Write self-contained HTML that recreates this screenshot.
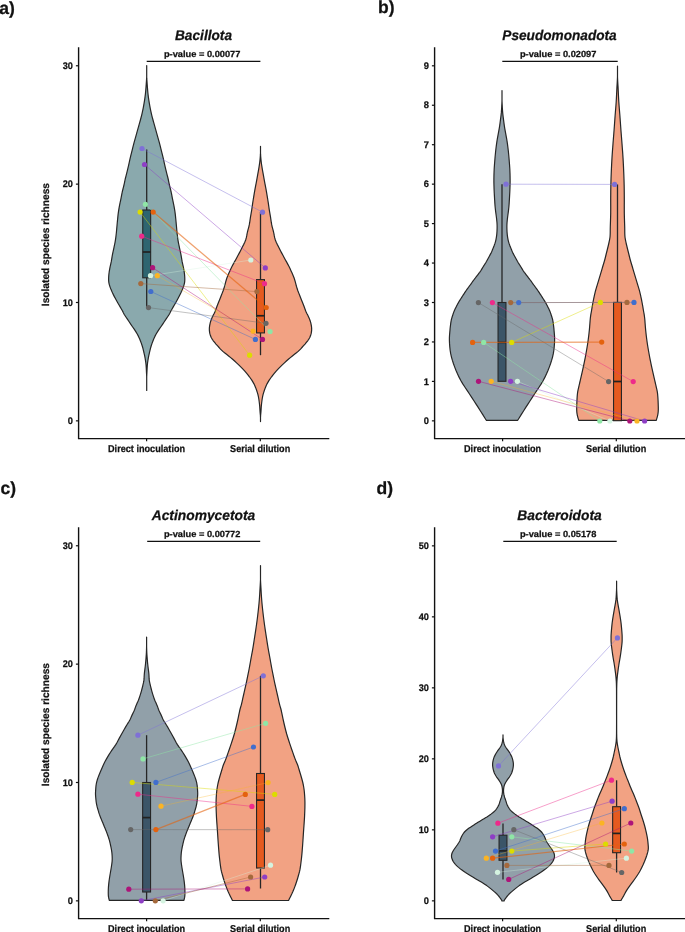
<!DOCTYPE html>
<html><head><meta charset="utf-8"><style>
html,body{margin:0;padding:0;background:#fff;}
svg{display:block;will-change:transform;}
text{font-family:"Liberation Sans", sans-serif;text-rendering:geometricPrecision;fill:#111;stroke:#111;stroke-width:0.25px;}
</style></head><body>
<svg width="685" height="932" viewBox="0 0 685 932">
<rect width="685" height="932" fill="#fff"/>
<path d="M146.70,65.50 L146.70,67.29 L146.70,69.88 L146.70,72.65 L146.70,75.00 L146.70,76.72 L146.74,78.16 L146.84,79.52 L146.95,81.00 L147.06,82.66 L147.18,84.39 L147.31,86.15 L147.45,87.90 L147.59,89.65 L147.74,91.40 L147.91,93.15 L148.10,94.90 L148.32,96.63 L148.56,98.35 L148.82,100.07 L149.10,101.80 L149.39,103.54 L149.69,105.29 L150.01,107.05 L150.35,108.80 L150.71,110.55 L151.09,112.31 L151.48,114.06 L151.90,115.80 L152.34,117.53 L152.80,119.25 L153.27,120.97 L153.75,122.70 L154.23,124.44 L154.72,126.19 L155.21,127.95 L155.70,129.70 L156.19,131.45 L156.67,133.20 L157.16,134.95 L157.65,136.70 L158.14,138.45 L158.64,140.21 L159.13,141.96 L159.60,143.70 L160.05,145.43 L160.49,147.15 L160.92,148.87 L161.35,150.60 L161.79,152.34 L162.24,154.09 L162.68,155.85 L163.10,157.60 L163.50,159.35 L163.88,161.10 L164.26,162.85 L164.65,164.60 L165.05,166.35 L165.46,168.11 L165.88,169.86 L166.30,171.60 L166.74,173.33 L167.18,175.05 L167.63,176.77 L168.05,178.50 L168.44,180.25 L168.81,182.03 L169.17,183.78 L169.55,185.50 L169.95,187.15 L170.36,188.76 L170.77,190.36 L171.15,192.00 L171.50,193.69 L171.83,195.42 L172.16,197.16 L172.50,198.90 L172.86,200.64 L173.24,202.39 L173.61,204.15 L173.95,205.90 L174.27,207.65 L174.57,209.41 L174.85,211.16 L175.10,212.90 L175.32,214.63 L175.51,216.35 L175.68,218.07 L175.85,219.80 L176.02,221.54 L176.18,223.29 L176.34,225.05 L176.50,226.80 L176.66,228.55 L176.81,230.30 L176.97,232.05 L177.15,233.80 L177.36,235.55 L177.58,237.31 L177.83,239.06 L178.10,240.80 L178.41,242.53 L178.74,244.25 L179.09,245.97 L179.45,247.70 L179.82,249.44 L180.21,251.19 L180.59,252.95 L180.95,254.70 L181.26,256.45 L181.55,258.20 L181.84,259.95 L182.15,261.70 L182.52,263.45 L182.91,265.20 L183.30,266.95 L183.65,268.70 L183.96,270.45 L184.25,272.21 L184.49,273.96 L184.65,275.70 L184.75,277.43 L184.80,279.15 L184.75,280.87 L184.55,282.60 L184.17,284.34 L183.65,286.09 L183.03,287.85 L182.35,289.60 L181.61,291.35 L180.80,293.11 L179.94,294.86 L179.05,296.60 L178.14,298.33 L177.20,300.05 L176.23,301.77 L175.25,303.50 L174.20,305.31 L173.10,307.17 L172.05,308.94 L171.15,310.50 L170.56,311.62 L170.19,312.44 L169.75,313.34 L168.95,314.70 L167.65,316.72 L166.01,319.16 L164.25,321.77 L162.55,324.30 L160.90,326.72 L159.21,329.15 L157.60,331.58 L156.15,334.00 L154.91,336.40 L153.82,338.80 L152.84,341.20 L151.95,343.60 L151.16,346.02 L150.47,348.44 L149.86,350.87 L149.30,353.30 L148.77,355.73 L148.30,358.16 L147.89,360.58 L147.55,363.00 L147.30,365.44 L147.14,367.88 L147.02,370.29 L146.90,372.60 L146.79,374.76 L146.71,376.81 L146.70,378.85 L146.70,381.00 L146.70,383.52 L146.70,386.27 L146.70,388.77 L146.70,390.50 L146.70,390.50 L146.70,388.77 L146.70,386.27 L146.70,383.52 L146.70,381.00 L146.70,378.85 L146.69,376.81 L146.61,374.76 L146.50,372.60 L146.38,370.29 L146.26,367.88 L146.10,365.44 L145.85,363.00 L145.51,360.58 L145.10,358.16 L144.63,355.73 L144.10,353.30 L143.54,350.87 L142.93,348.44 L142.24,346.02 L141.45,343.60 L140.56,341.20 L139.58,338.80 L138.49,336.40 L137.25,334.00 L135.80,331.58 L134.19,329.15 L132.50,326.72 L130.85,324.30 L129.15,321.77 L127.39,319.16 L125.75,316.72 L124.45,314.70 L123.65,313.34 L123.21,312.44 L122.84,311.62 L122.25,310.50 L121.35,308.94 L120.30,307.17 L119.20,305.31 L118.15,303.50 L117.17,301.77 L116.20,300.05 L115.26,298.33 L114.35,296.60 L113.46,294.86 L112.60,293.11 L111.79,291.35 L111.05,289.60 L110.37,287.85 L109.75,286.09 L109.23,284.34 L108.85,282.60 L108.65,280.87 L108.60,279.15 L108.65,277.43 L108.75,275.70 L108.91,273.96 L109.15,272.21 L109.44,270.45 L109.75,268.70 L110.10,266.95 L110.49,265.20 L110.88,263.45 L111.25,261.70 L111.56,259.95 L111.85,258.20 L112.14,256.45 L112.45,254.70 L112.81,252.95 L113.19,251.19 L113.58,249.44 L113.95,247.70 L114.31,245.97 L114.66,244.25 L114.99,242.53 L115.30,240.80 L115.57,239.06 L115.82,237.31 L116.04,235.55 L116.25,233.80 L116.43,232.05 L116.59,230.30 L116.74,228.55 L116.90,226.80 L117.06,225.05 L117.22,223.29 L117.38,221.54 L117.55,219.80 L117.72,218.07 L117.89,216.35 L118.08,214.63 L118.30,212.90 L118.55,211.16 L118.83,209.41 L119.13,207.65 L119.45,205.90 L119.79,204.15 L120.16,202.39 L120.54,200.64 L120.90,198.90 L121.24,197.16 L121.57,195.42 L121.90,193.69 L122.25,192.00 L122.63,190.36 L123.04,188.76 L123.45,187.15 L123.85,185.50 L124.23,183.78 L124.59,182.03 L124.96,180.25 L125.35,178.50 L125.77,176.77 L126.22,175.05 L126.66,173.33 L127.10,171.60 L127.52,169.86 L127.94,168.11 L128.35,166.35 L128.75,164.60 L129.14,162.85 L129.52,161.10 L129.90,159.35 L130.30,157.60 L130.72,155.85 L131.16,154.09 L131.61,152.34 L132.05,150.60 L132.48,148.87 L132.91,147.15 L133.35,145.43 L133.80,143.70 L134.27,141.96 L134.76,140.21 L135.26,138.45 L135.75,136.70 L136.24,134.95 L136.72,133.20 L137.21,131.45 L137.70,129.70 L138.19,127.95 L138.68,126.19 L139.17,124.44 L139.65,122.70 L140.13,120.97 L140.60,119.25 L141.06,117.53 L141.50,115.80 L141.92,114.06 L142.31,112.31 L142.69,110.55 L143.05,108.80 L143.39,107.05 L143.71,105.29 L144.01,103.54 L144.30,101.80 L144.58,100.07 L144.84,98.35 L145.08,96.63 L145.30,94.90 L145.49,93.15 L145.66,91.40 L145.81,89.65 L145.95,87.90 L146.09,86.15 L146.22,84.39 L146.34,82.66 L146.45,81.00 L146.56,79.52 L146.66,78.16 L146.70,76.72 L146.70,75.00 L146.70,72.65 L146.70,69.88 L146.70,67.29 L146.70,65.50 Z" fill="#8aa9ad" stroke="#262626" stroke-width="1.2" stroke-linejoin="round"/>
<path d="M260.50,146.30 L260.50,147.48 L260.50,149.16 L260.50,151.08 L260.50,153.00 L260.59,154.91 L260.74,156.93 L260.91,158.96 L261.10,160.90 L261.32,162.72 L261.56,164.46 L261.82,166.18 L262.10,167.90 L262.39,169.63 L262.71,171.35 L263.03,173.07 L263.35,174.80 L263.66,176.54 L263.97,178.29 L264.28,180.05 L264.60,181.80 L264.93,183.55 L265.28,185.30 L265.62,187.05 L265.95,188.80 L266.26,190.55 L266.57,192.31 L266.86,194.06 L267.15,195.80 L267.43,197.53 L267.71,199.25 L267.98,200.97 L268.25,202.70 L268.50,204.44 L268.74,206.19 L268.99,207.95 L269.25,209.70 L269.53,211.43 L269.83,213.14 L270.14,214.88 L270.45,216.70 L270.74,218.65 L271.03,220.68 L271.34,222.73 L271.70,224.70 L272.12,226.56 L272.59,228.35 L273.08,230.14 L273.55,232.00 L273.95,233.93 L274.31,235.91 L274.74,237.93 L275.35,240.00 L276.21,242.15 L277.25,244.36 L278.38,246.59 L279.50,248.80 L280.61,250.98 L281.76,253.15 L282.93,255.32 L284.10,257.50 L285.30,259.70 L286.54,261.90 L287.75,264.10 L288.90,266.30 L290.01,268.57 L291.08,270.89 L292.07,273.09 L292.90,275.00 L293.50,276.42 L293.92,277.49 L294.30,278.57 L294.75,280.00 L295.30,281.94 L295.88,284.17 L296.51,286.52 L297.20,288.80 L297.96,290.98 L298.78,293.15 L299.64,295.32 L300.50,297.50 L301.39,299.77 L302.32,302.09 L303.22,304.32 L304.00,306.30 L304.63,307.97 L305.16,309.43 L305.64,310.74 L306.15,312.00 L306.71,313.19 L307.27,314.28 L307.83,315.33 L308.35,316.40 L308.84,317.50 L309.32,318.61 L309.76,319.71 L310.15,320.80 L310.49,321.88 L310.79,322.95 L311.04,324.02 L311.25,325.10 L311.42,326.19 L311.56,327.29 L311.64,328.40 L311.65,329.50 L311.60,330.60 L311.48,331.70 L311.30,332.80 L311.05,333.90 L310.74,335.00 L310.36,336.10 L309.91,337.20 L309.35,338.30 L308.67,339.40 L307.88,340.51 L307.03,341.61 L306.15,342.70 L305.25,343.78 L304.31,344.85 L303.34,345.92 L302.35,347.00 L301.41,348.05 L300.50,349.08 L299.46,350.17 L298.15,351.40 L296.45,352.80 L294.48,354.34 L292.38,355.95 L290.35,357.60 L288.38,359.29 L286.39,361.05 L284.43,362.83 L282.55,364.60 L280.75,366.35 L279.00,368.11 L277.33,369.86 L275.75,371.60 L274.27,373.33 L272.88,375.05 L271.58,376.77 L270.35,378.50 L269.21,380.19 L268.16,381.86 L267.18,383.59 L266.25,385.50 L265.35,387.65 L264.49,389.97 L263.71,392.36 L263.05,394.70 L262.54,396.98 L262.14,399.26 L261.83,401.53 L261.55,403.80 L261.32,406.08 L261.16,408.38 L261.02,410.65 L260.85,412.90 L260.62,415.31 L260.50,417.82 L260.50,420.05 L260.50,421.60 L260.50,421.60 L260.50,420.05 L260.50,417.82 L260.38,415.31 L260.15,412.90 L259.98,410.65 L259.84,408.38 L259.68,406.08 L259.45,403.80 L259.17,401.53 L258.86,399.26 L258.46,396.98 L257.95,394.70 L257.29,392.36 L256.51,389.97 L255.65,387.65 L254.75,385.50 L253.82,383.59 L252.84,381.86 L251.79,380.19 L250.65,378.50 L249.42,376.77 L248.12,375.05 L246.73,373.33 L245.25,371.60 L243.67,369.86 L242.00,368.11 L240.25,366.35 L238.45,364.60 L236.57,362.83 L234.61,361.05 L232.62,359.29 L230.65,357.60 L228.62,355.95 L226.52,354.34 L224.55,352.80 L222.85,351.40 L221.54,350.17 L220.50,349.08 L219.59,348.05 L218.65,347.00 L217.66,345.92 L216.69,344.85 L215.75,343.78 L214.85,342.70 L213.97,341.61 L213.12,340.51 L212.33,339.40 L211.65,338.30 L211.09,337.20 L210.64,336.10 L210.26,335.00 L209.95,333.90 L209.70,332.80 L209.52,331.70 L209.40,330.60 L209.35,329.50 L209.36,328.40 L209.44,327.29 L209.58,326.19 L209.75,325.10 L209.96,324.02 L210.21,322.95 L210.51,321.88 L210.85,320.80 L211.24,319.71 L211.68,318.61 L212.16,317.50 L212.65,316.40 L213.17,315.33 L213.73,314.28 L214.29,313.19 L214.85,312.00 L215.36,310.74 L215.84,309.43 L216.37,307.97 L217.00,306.30 L217.78,304.32 L218.68,302.09 L219.61,299.77 L220.50,297.50 L221.36,295.32 L222.22,293.15 L223.04,290.98 L223.80,288.80 L224.49,286.52 L225.12,284.17 L225.70,281.94 L226.25,280.00 L226.70,278.57 L227.08,277.49 L227.50,276.42 L228.10,275.00 L228.93,273.09 L229.92,270.89 L230.99,268.57 L232.10,266.30 L233.25,264.10 L234.46,261.90 L235.70,259.70 L236.90,257.50 L238.07,255.32 L239.24,253.15 L240.39,250.98 L241.50,248.80 L242.62,246.59 L243.75,244.36 L244.79,242.15 L245.65,240.00 L246.26,237.93 L246.69,235.91 L247.05,233.93 L247.45,232.00 L247.92,230.14 L248.41,228.35 L248.88,226.56 L249.30,224.70 L249.66,222.73 L249.97,220.68 L250.26,218.65 L250.55,216.70 L250.86,214.88 L251.17,213.14 L251.47,211.43 L251.75,209.70 L252.01,207.95 L252.26,206.19 L252.50,204.44 L252.75,202.70 L253.02,200.97 L253.29,199.25 L253.57,197.53 L253.85,195.80 L254.14,194.06 L254.43,192.31 L254.74,190.55 L255.05,188.80 L255.38,187.05 L255.72,185.30 L256.07,183.55 L256.40,181.80 L256.72,180.05 L257.03,178.29 L257.34,176.54 L257.65,174.80 L257.97,173.07 L258.29,171.35 L258.61,169.63 L258.90,167.90 L259.18,166.18 L259.44,164.46 L259.68,162.72 L259.90,160.90 L260.09,158.96 L260.26,156.93 L260.41,154.91 L260.50,153.00 L260.50,151.08 L260.50,149.16 L260.50,147.48 L260.50,146.30 Z" fill="#f2a283" stroke="#262626" stroke-width="1.2" stroke-linejoin="round"/>
<line x1="146.7" y1="149.4" x2="146.7" y2="210" stroke="#262626" stroke-width="1.3"/>
<line x1="146.7" y1="277.8" x2="146.7" y2="307.6" stroke="#262626" stroke-width="1.3"/>
<rect x="142.75" y="210" width="7.9" height="67.80" fill="#2e6570" stroke="#262626" stroke-width="1.1"/>
<line x1="142.75" y1="252" x2="150.65" y2="252" stroke="#222" stroke-width="1.7"/>
<line x1="260.5" y1="211.8" x2="260.5" y2="279.6" stroke="#262626" stroke-width="1.3"/>
<line x1="260.5" y1="332.9" x2="260.5" y2="355.2" stroke="#262626" stroke-width="1.3"/>
<rect x="256.55" y="279.6" width="7.9" height="53.30" fill="#e55a1f" stroke="#262626" stroke-width="1.1"/>
<line x1="256.55" y1="315.75" x2="264.45" y2="315.75" stroke="#222" stroke-width="1.7"/>
<line x1="150.5" y1="275.7" x2="250.8" y2="260" stroke="#d4f3e0" stroke-width="1.0" stroke-opacity="0.35"/>
<line x1="145.4" y1="204.3" x2="270.1" y2="331.5" stroke="#8fe6a6" stroke-width="1.0" stroke-opacity="0.45"/>
<line x1="140.1" y1="212.1" x2="249.6" y2="355.2" stroke="#dcdc00" stroke-width="1.0" stroke-opacity="0.45"/>
<line x1="157.3" y1="275.7" x2="253.1" y2="331.2" stroke="#fbb424" stroke-width="1.0" stroke-opacity="0.33"/>
<line x1="142" y1="148.5" x2="262.5" y2="212.2" stroke="#7f70d6" stroke-width="1.0" stroke-opacity="0.45"/>
<line x1="144.5" y1="164.5" x2="265.3" y2="267.9" stroke="#8e3fc5" stroke-width="1.0" stroke-opacity="0.45"/>
<line x1="150.8" y1="291.5" x2="255.4" y2="339.4" stroke="#416ecd" stroke-width="1.0" stroke-opacity="0.45"/>
<line x1="140.8" y1="283.6" x2="256.9" y2="291.6" stroke="#a5693c" stroke-width="1.0" stroke-opacity="0.45"/>
<line x1="148.5" y1="307.6" x2="266" y2="323.3" stroke="#666666" stroke-width="1.0" stroke-opacity="0.4"/>
<line x1="141.7" y1="236.2" x2="264.5" y2="283.7" stroke="#ee2a8a" stroke-width="1.0" stroke-opacity="0.45"/>
<line x1="152.6" y1="267.7" x2="262.5" y2="339.4" stroke="#ad1479" stroke-width="1.0" stroke-opacity="0.45"/>
<line x1="153.2" y1="212.1" x2="266.2" y2="307.5" stroke="#e4620e" stroke-width="1.25" stroke-opacity="0.6"/>
<circle cx="142" cy="148.5" r="2.6" fill="#7f70d6"/>
<circle cx="144.5" cy="164.5" r="2.6" fill="#8e3fc5"/>
<circle cx="145.4" cy="204.3" r="2.6" fill="#8fe6a6"/>
<circle cx="140.1" cy="212.1" r="2.6" fill="#dcdc00"/>
<circle cx="153.2" cy="212.1" r="2.6" fill="#e4620e"/>
<circle cx="141.7" cy="236.2" r="2.6" fill="#ee2a8a"/>
<circle cx="152.6" cy="267.7" r="2.6" fill="#ad1479"/>
<circle cx="150.5" cy="275.7" r="2.6" fill="#d4f3e0"/>
<circle cx="157.3" cy="275.7" r="2.6" fill="#fbb424"/>
<circle cx="140.8" cy="283.6" r="2.6" fill="#a5693c"/>
<circle cx="150.8" cy="291.5" r="2.6" fill="#416ecd"/>
<circle cx="148.5" cy="307.6" r="2.6" fill="#666666"/>
<circle cx="262.5" cy="212.2" r="2.6" fill="#7f70d6"/>
<circle cx="250.8" cy="260" r="2.6" fill="#d4f3e0"/>
<circle cx="265.3" cy="267.9" r="2.6" fill="#8e3fc5"/>
<circle cx="264.5" cy="283.7" r="2.6" fill="#ee2a8a"/>
<circle cx="256.9" cy="291.6" r="2.6" fill="#a5693c"/>
<circle cx="266.2" cy="307.5" r="2.6" fill="#e4620e"/>
<circle cx="266" cy="323.3" r="2.6" fill="#666666"/>
<circle cx="253.1" cy="331.2" r="2.6" fill="#fbb424"/>
<circle cx="270.1" cy="331.5" r="2.6" fill="#8fe6a6"/>
<circle cx="255.4" cy="339.4" r="2.6" fill="#416ecd"/>
<circle cx="262.5" cy="339.4" r="2.6" fill="#ad1479"/>
<circle cx="249.6" cy="355.2" r="2.6" fill="#dcdc00"/>
<path d="M78.6,48 L78.6,438.65 L328.6,438.65" fill="none" stroke="#111" stroke-width="1.4" stroke-linecap="square"/>
<line x1="75.89999999999999" y1="420.85" x2="78.6" y2="420.85" stroke="#111" stroke-width="1.2"/>
<text x="72.95" y="424.05" font-size="9.5" font-weight="bold" font-style="normal" text-anchor="end" textLength="5.2" lengthAdjust="spacingAndGlyphs">0</text>
<line x1="75.89999999999999" y1="302.49" x2="78.6" y2="302.49" stroke="#111" stroke-width="1.2"/>
<text x="72.95" y="305.69" font-size="9.5" font-weight="bold" font-style="normal" text-anchor="end" textLength="10.2" lengthAdjust="spacingAndGlyphs">10</text>
<line x1="75.89999999999999" y1="184.13" x2="78.6" y2="184.13" stroke="#111" stroke-width="1.2"/>
<text x="72.95" y="187.33" font-size="9.5" font-weight="bold" font-style="normal" text-anchor="end" textLength="10.2" lengthAdjust="spacingAndGlyphs">20</text>
<line x1="75.89999999999999" y1="65.77" x2="78.6" y2="65.77" stroke="#111" stroke-width="1.2"/>
<text x="72.95" y="68.97000000000004" font-size="9.5" font-weight="bold" font-style="normal" text-anchor="end" textLength="10.2" lengthAdjust="spacingAndGlyphs">30</text>
<line x1="146.6" y1="438.65" x2="146.6" y2="441.3" stroke="#111" stroke-width="1.2"/>
<line x1="260.3" y1="438.65" x2="260.3" y2="441.3" stroke="#111" stroke-width="1.2"/>
<text x="146.55" y="451.9" font-size="10.0" font-weight="bold" font-style="normal" text-anchor="middle" textLength="77.1" lengthAdjust="spacingAndGlyphs">Direct inoculation</text>
<text x="260.15" y="451.9" font-size="10.0" font-weight="bold" font-style="normal" text-anchor="middle" textLength="60.1" lengthAdjust="spacingAndGlyphs">Serial dilution</text>
<text x="0" y="0" font-size="10.4" font-weight="bold" text-anchor="middle" textLength="123.1" lengthAdjust="spacingAndGlyphs" transform="translate(49.3,244.6) rotate(-90)">Isolated species richness</text>
<text x="203.5" y="40.3" font-size="14" font-weight="bold" font-style="italic" text-anchor="middle" textLength="57" lengthAdjust="spacingAndGlyphs">Bacillota</text>
<text x="202.2" y="56.6" font-size="8.9" font-weight="bold" font-style="normal" text-anchor="middle" textLength="76.5" lengthAdjust="spacingAndGlyphs">p-value = 0.00077</text>
<line x1="146.7" y1="61.4" x2="260.4" y2="61.4" stroke="#111" stroke-width="1.2"/>
<path d="M502.00,90.50 L502.00,92.29 L502.00,94.88 L502.00,97.65 L502.00,100.00 L502.04,101.72 L502.10,103.16 L502.17,104.52 L502.25,106.00 L502.34,107.66 L502.44,109.39 L502.56,111.15 L502.70,112.90 L502.88,114.65 L503.09,116.40 L503.32,118.15 L503.55,119.90 L503.77,121.63 L504.00,123.35 L504.24,125.07 L504.50,126.80 L504.79,128.54 L505.11,130.29 L505.43,132.05 L505.75,133.80 L506.07,135.55 L506.39,137.30 L506.71,139.05 L507.00,140.80 L507.26,142.55 L507.51,144.31 L507.73,146.06 L507.95,147.80 L508.16,149.53 L508.35,151.25 L508.53,152.97 L508.70,154.70 L508.86,156.44 L509.02,158.19 L509.16,159.95 L509.30,161.70 L509.44,163.45 L509.57,165.21 L509.69,166.96 L509.80,168.70 L509.88,170.43 L509.95,172.15 L510.01,173.87 L510.05,175.60 L510.08,177.34 L510.10,179.09 L510.11,180.85 L510.10,182.60 L510.07,184.35 L510.02,186.10 L509.97,187.85 L509.90,189.60 L509.82,191.43 L509.73,193.33 L509.63,195.10 L509.55,196.60 L509.49,197.64 L509.45,198.36 L509.41,199.05 L509.35,200.00 L509.27,201.32 L509.18,202.84 L509.07,204.44 L508.95,206.00 L508.81,207.50 L508.65,209.00 L508.48,210.50 L508.30,212.00 L508.10,213.50 L507.89,215.00 L507.69,216.50 L507.50,218.00 L507.33,219.50 L507.18,221.00 L507.04,222.50 L506.95,224.00 L506.90,225.50 L506.88,226.99 L506.90,228.49 L506.95,230.00 L507.02,231.52 L507.12,233.05 L507.26,234.58 L507.45,236.10 L507.68,237.61 L507.94,239.11 L508.26,240.60 L508.65,242.10 L509.14,243.64 L509.71,245.21 L510.30,246.72 L510.85,248.10 L511.31,249.28 L511.72,250.31 L512.15,251.31 L512.65,252.40 L513.26,253.62 L513.94,254.91 L514.65,256.21 L515.35,257.50 L516.03,258.77 L516.72,260.04 L517.40,261.29 L518.10,262.50 L518.81,263.66 L519.53,264.79 L520.25,265.90 L520.95,267.00 L521.61,268.09 L522.25,269.16 L522.90,270.23 L523.60,271.30 L524.37,272.37 L525.18,273.44 L526.02,274.52 L526.85,275.60 L527.67,276.68 L528.50,277.76 L529.34,278.86 L530.20,280.00 L531.09,281.22 L532.01,282.50 L532.92,283.78 L533.80,285.00 L534.64,286.14 L535.47,287.24 L536.27,288.31 L537.05,289.40 L537.81,290.50 L538.55,291.60 L539.28,292.70 L540.00,293.80 L540.72,294.90 L541.44,296.01 L542.15,297.11 L542.85,298.20 L543.53,299.28 L544.21,300.35 L544.86,301.42 L545.50,302.50 L546.12,303.59 L546.71,304.69 L547.29,305.80 L547.85,306.90 L548.40,308.00 L548.92,309.10 L549.43,310.20 L549.90,311.30 L550.33,312.40 L550.73,313.51 L551.10,314.61 L551.45,315.70 L551.80,316.78 L552.13,317.85 L552.43,318.92 L552.70,320.00 L552.91,321.05 L553.09,322.09 L553.24,323.18 L553.40,324.40 L553.57,325.72 L553.73,327.11 L553.90,328.67 L554.05,330.50 L554.24,332.61 L554.45,334.94 L554.59,337.51 L554.60,340.30 L554.47,343.40 L554.23,346.78 L553.86,350.27 L553.30,353.70 L552.54,357.05 L551.60,360.40 L550.51,363.75 L549.30,367.10 L547.98,370.45 L546.54,373.79 L544.96,377.14 L543.20,380.50 L541.21,383.87 L539.01,387.25 L536.74,390.63 L534.50,394.00 L532.31,397.37 L530.11,400.74 L527.93,404.09 L525.80,407.40 L523.54,410.96 L521.21,414.69 L519.14,417.99 L517.70,420.30 L486.30,420.30 L484.86,417.99 L482.79,414.69 L480.46,410.96 L478.20,407.40 L476.07,404.09 L473.89,400.74 L471.69,397.37 L469.50,394.00 L467.26,390.63 L464.99,387.25 L462.79,383.87 L460.80,380.50 L459.04,377.14 L457.46,373.79 L456.02,370.45 L454.70,367.10 L453.49,363.75 L452.40,360.40 L451.46,357.05 L450.70,353.70 L450.14,350.27 L449.77,346.78 L449.53,343.40 L449.40,340.30 L449.41,337.51 L449.55,334.94 L449.76,332.61 L449.95,330.50 L450.10,328.67 L450.27,327.11 L450.43,325.72 L450.60,324.40 L450.76,323.18 L450.91,322.09 L451.09,321.05 L451.30,320.00 L451.57,318.92 L451.87,317.85 L452.20,316.78 L452.55,315.70 L452.90,314.61 L453.27,313.51 L453.67,312.40 L454.10,311.30 L454.57,310.20 L455.07,309.10 L455.60,308.00 L456.15,306.90 L456.71,305.80 L457.29,304.69 L457.88,303.59 L458.50,302.50 L459.14,301.42 L459.79,300.35 L460.47,299.28 L461.15,298.20 L461.85,297.11 L462.56,296.01 L463.28,294.90 L464.00,293.80 L464.72,292.70 L465.45,291.60 L466.19,290.50 L466.95,289.40 L467.73,288.31 L468.53,287.24 L469.36,286.14 L470.20,285.00 L471.08,283.78 L471.99,282.50 L472.91,281.22 L473.80,280.00 L474.66,278.86 L475.50,277.76 L476.33,276.68 L477.15,275.60 L477.98,274.52 L478.82,273.44 L479.63,272.37 L480.40,271.30 L481.10,270.23 L481.75,269.16 L482.39,268.09 L483.05,267.00 L483.75,265.90 L484.47,264.79 L485.19,263.66 L485.90,262.50 L486.60,261.29 L487.28,260.04 L487.97,258.77 L488.65,257.50 L489.35,256.21 L490.06,254.91 L490.74,253.62 L491.35,252.40 L491.85,251.31 L492.28,250.31 L492.69,249.28 L493.15,248.10 L493.70,246.72 L494.29,245.21 L494.86,243.64 L495.35,242.10 L495.74,240.60 L496.06,239.11 L496.32,237.61 L496.55,236.10 L496.74,234.58 L496.88,233.05 L496.98,231.52 L497.05,230.00 L497.10,228.49 L497.12,226.99 L497.10,225.50 L497.05,224.00 L496.96,222.50 L496.82,221.00 L496.67,219.50 L496.50,218.00 L496.31,216.50 L496.11,215.00 L495.90,213.50 L495.70,212.00 L495.52,210.50 L495.35,209.00 L495.19,207.50 L495.05,206.00 L494.93,204.44 L494.82,202.84 L494.73,201.32 L494.65,200.00 L494.59,199.05 L494.55,198.36 L494.51,197.64 L494.45,196.60 L494.37,195.10 L494.27,193.33 L494.18,191.43 L494.10,189.60 L494.03,187.85 L493.98,186.10 L493.93,184.35 L493.90,182.60 L493.89,180.85 L493.90,179.09 L493.92,177.34 L493.95,175.60 L493.99,173.87 L494.05,172.15 L494.12,170.43 L494.20,168.70 L494.31,166.96 L494.43,165.21 L494.56,163.45 L494.70,161.70 L494.84,159.95 L494.98,158.19 L495.14,156.44 L495.30,154.70 L495.47,152.97 L495.65,151.25 L495.84,149.53 L496.05,147.80 L496.27,146.06 L496.49,144.31 L496.74,142.55 L497.00,140.80 L497.29,139.05 L497.61,137.30 L497.93,135.55 L498.25,133.80 L498.57,132.05 L498.89,130.29 L499.21,128.54 L499.50,126.80 L499.76,125.07 L500.00,123.35 L500.23,121.63 L500.45,119.90 L500.68,118.15 L500.91,116.40 L501.12,114.65 L501.30,112.90 L501.44,111.15 L501.56,109.39 L501.66,107.66 L501.75,106.00 L501.83,104.52 L501.90,103.16 L501.96,101.72 L502.00,100.00 L502.00,97.65 L502.00,94.88 L502.00,92.29 L502.00,90.50 Z" fill="#91a0a9" stroke="#262626" stroke-width="1.2" stroke-linejoin="round"/>
<path d="M617.50,66.00 L617.50,67.89 L617.50,70.62 L617.50,73.55 L617.50,76.00 L617.54,77.78 L617.61,79.26 L617.68,80.60 L617.75,82.00 L617.83,83.29 L617.90,84.46 L617.99,85.86 L618.10,87.90 L618.24,90.81 L618.40,94.34 L618.59,98.13 L618.80,101.80 L619.05,105.30 L619.33,108.80 L619.62,112.30 L619.90,115.80 L620.15,119.28 L620.40,122.75 L620.65,126.22 L620.90,129.70 L621.17,133.20 L621.45,136.70 L621.73,140.20 L622.00,143.70 L622.26,147.18 L622.52,150.65 L622.77,154.12 L623.00,157.60 L623.20,161.11 L623.38,164.63 L623.55,168.14 L623.70,171.60 L623.84,174.98 L623.96,178.31 L624.06,181.63 L624.15,185.00 L624.21,188.44 L624.25,191.91 L624.28,195.41 L624.30,198.90 L624.30,202.40 L624.28,205.90 L624.28,209.40 L624.30,212.90 L624.38,216.49 L624.49,220.15 L624.60,223.66 L624.70,226.80 L624.75,229.51 L624.76,231.89 L624.80,234.04 L624.90,236.00 L625.08,237.73 L625.33,239.20 L625.60,240.58 L625.90,242.00 L626.22,243.50 L626.57,245.00 L626.93,246.50 L627.30,248.00 L627.67,249.50 L628.04,251.00 L628.42,252.50 L628.80,254.00 L629.17,255.50 L629.53,257.00 L629.90,258.50 L630.30,260.00 L630.73,261.50 L631.18,262.99 L631.64,264.49 L632.10,266.00 L632.55,267.52 L633.00,269.05 L633.45,270.58 L633.90,272.10 L634.35,273.61 L634.80,275.11 L635.25,276.60 L635.70,278.10 L636.15,279.60 L636.60,281.10 L637.05,282.60 L637.50,284.10 L637.96,285.59 L638.42,287.07 L638.87,288.56 L639.30,290.10 L639.71,291.69 L640.11,293.33 L640.49,294.97 L640.85,296.60 L641.19,298.18 L641.52,299.74 L641.83,301.33 L642.15,303.00 L642.48,304.80 L642.81,306.68 L643.13,308.60 L643.45,310.50 L643.76,312.27 L644.07,313.97 L644.37,315.81 L644.65,318.00 L644.90,320.68 L645.13,323.72 L645.37,326.89 L645.65,330.00 L645.97,333.00 L646.31,336.00 L646.69,339.00 L647.10,342.00 L647.55,345.00 L648.04,347.99 L648.56,350.99 L649.10,354.00 L649.66,357.02 L650.26,360.05 L650.87,363.08 L651.50,366.10 L652.17,369.21 L652.89,372.37 L653.58,375.40 L654.20,378.10 L654.72,380.34 L655.17,382.24 L655.59,384.03 L656.00,385.90 L656.44,387.78 L656.87,389.60 L657.27,391.60 L657.60,394.00 L657.86,397.13 L658.08,400.79 L658.22,404.40 L658.30,407.40 L658.31,409.56 L658.24,411.20 L658.11,412.62 L657.90,414.10 L657.55,415.83 L657.08,417.62 L656.62,419.20 L656.30,420.30 L578.70,420.30 L578.38,419.20 L577.92,417.62 L577.45,415.83 L577.10,414.10 L576.89,412.62 L576.76,411.20 L576.69,409.56 L576.70,407.40 L576.78,404.40 L576.92,400.79 L577.14,397.13 L577.40,394.00 L577.73,391.60 L578.13,389.60 L578.56,387.78 L579.00,385.90 L579.41,384.03 L579.83,382.24 L580.28,380.34 L580.80,378.10 L581.42,375.40 L582.11,372.37 L582.83,369.21 L583.50,366.10 L584.13,363.08 L584.74,360.05 L585.34,357.02 L585.90,354.00 L586.44,350.99 L586.96,347.99 L587.45,345.00 L587.90,342.00 L588.31,339.00 L588.69,336.00 L589.03,333.00 L589.35,330.00 L589.63,326.89 L589.87,323.72 L590.10,320.68 L590.35,318.00 L590.63,315.81 L590.93,313.97 L591.24,312.27 L591.55,310.50 L591.87,308.60 L592.19,306.68 L592.52,304.80 L592.85,303.00 L593.17,301.33 L593.48,299.74 L593.81,298.18 L594.15,296.60 L594.51,294.97 L594.89,293.33 L595.29,291.69 L595.70,290.10 L596.13,288.56 L596.58,287.07 L597.04,285.59 L597.50,284.10 L597.95,282.60 L598.40,281.10 L598.85,279.60 L599.30,278.10 L599.75,276.60 L600.20,275.11 L600.65,273.61 L601.10,272.10 L601.55,270.58 L602.00,269.05 L602.45,267.52 L602.90,266.00 L603.36,264.49 L603.82,262.99 L604.27,261.50 L604.70,260.00 L605.10,258.50 L605.47,257.00 L605.83,255.50 L606.20,254.00 L606.58,252.50 L606.96,251.00 L607.33,249.50 L607.70,248.00 L608.07,246.50 L608.43,245.00 L608.78,243.50 L609.10,242.00 L609.40,240.58 L609.67,239.20 L609.92,237.73 L610.10,236.00 L610.20,234.04 L610.24,231.89 L610.25,229.51 L610.30,226.80 L610.40,223.66 L610.51,220.15 L610.62,216.49 L610.70,212.90 L610.72,209.40 L610.72,205.90 L610.70,202.40 L610.70,198.90 L610.72,195.41 L610.75,191.91 L610.79,188.44 L610.85,185.00 L610.94,181.63 L611.04,178.31 L611.16,174.98 L611.30,171.60 L611.45,168.14 L611.62,164.63 L611.80,161.11 L612.00,157.60 L612.23,154.12 L612.48,150.65 L612.74,147.18 L613.00,143.70 L613.27,140.20 L613.55,136.70 L613.83,133.20 L614.10,129.70 L614.35,126.22 L614.60,122.75 L614.85,119.28 L615.10,115.80 L615.38,112.30 L615.67,108.80 L615.95,105.30 L616.20,101.80 L616.41,98.13 L616.60,94.34 L616.76,90.81 L616.90,87.90 L617.01,85.86 L617.10,84.46 L617.17,83.29 L617.25,82.00 L617.32,80.60 L617.39,79.26 L617.46,77.78 L617.50,76.00 L617.50,73.55 L617.50,70.62 L617.50,67.89 L617.50,66.00 Z" fill="#f2a283" stroke="#262626" stroke-width="1.2" stroke-linejoin="round"/>
<line x1="502.0" y1="184.2" x2="502.0" y2="302.5" stroke="#262626" stroke-width="1.3"/>
<rect x="498.05" y="302.5" width="7.9" height="78.80" fill="#3b5568" stroke="#262626" stroke-width="1.1"/>
<line x1="498.05" y1="342.4" x2="505.95" y2="342.4" stroke="#222" stroke-width="1.7"/>
<line x1="617.5" y1="184.4" x2="617.5" y2="302.4" stroke="#262626" stroke-width="1.3"/>
<rect x="613.55" y="302.4" width="7.9" height="118.30" fill="#e55a1f" stroke="#262626" stroke-width="1.1"/>
<line x1="613.55" y1="381.5" x2="621.45" y2="381.5" stroke="#222" stroke-width="1.7"/>
<line x1="517.4" y1="381.3" x2="609.9" y2="421" stroke="#d4f3e0" stroke-width="1.0" stroke-opacity="0.35"/>
<line x1="483.7" y1="342.4" x2="599.8" y2="421" stroke="#8fe6a6" stroke-width="1.0" stroke-opacity="0.45"/>
<line x1="511.7" y1="342.4" x2="600.4" y2="302.4" stroke="#dcdc00" stroke-width="1.0" stroke-opacity="0.45"/>
<line x1="491.2" y1="381.3" x2="637" y2="421" stroke="#fbb424" stroke-width="1.0" stroke-opacity="0.33"/>
<line x1="506" y1="184.2" x2="614.6" y2="184.4" stroke="#7f70d6" stroke-width="1.0" stroke-opacity="0.45"/>
<line x1="510.6" y1="381.3" x2="644.6" y2="421" stroke="#8e3fc5" stroke-width="1.0" stroke-opacity="0.45"/>
<line x1="518.7" y1="302.6" x2="634" y2="302.4" stroke="#416ecd" stroke-width="1.0" stroke-opacity="0.45"/>
<line x1="510.7" y1="302.6" x2="627" y2="302.4" stroke="#a5693c" stroke-width="1.0" stroke-opacity="0.45"/>
<line x1="478.4" y1="302.6" x2="608.6" y2="381.6" stroke="#666666" stroke-width="1.0" stroke-opacity="0.4"/>
<line x1="492.4" y1="302.6" x2="633.2" y2="381.6" stroke="#ee2a8a" stroke-width="1.0" stroke-opacity="0.45"/>
<line x1="478.5" y1="381.3" x2="629.8" y2="421" stroke="#ad1479" stroke-width="1.0" stroke-opacity="0.45"/>
<line x1="472.6" y1="342.4" x2="601.7" y2="342.1" stroke="#e4620e" stroke-width="1.25" stroke-opacity="0.6"/>
<circle cx="506" cy="184.2" r="2.6" fill="#7f70d6"/>
<circle cx="478.4" cy="302.6" r="2.6" fill="#666666"/>
<circle cx="492.4" cy="302.6" r="2.6" fill="#ee2a8a"/>
<circle cx="510.7" cy="302.6" r="2.6" fill="#a5693c"/>
<circle cx="518.7" cy="302.6" r="2.6" fill="#416ecd"/>
<circle cx="472.6" cy="342.4" r="2.6" fill="#e4620e"/>
<circle cx="483.7" cy="342.4" r="2.6" fill="#8fe6a6"/>
<circle cx="511.7" cy="342.4" r="2.6" fill="#dcdc00"/>
<circle cx="478.5" cy="381.3" r="2.6" fill="#ad1479"/>
<circle cx="491.2" cy="381.3" r="2.6" fill="#fbb424"/>
<circle cx="510.6" cy="381.3" r="2.6" fill="#8e3fc5"/>
<circle cx="517.4" cy="381.3" r="2.6" fill="#d4f3e0"/>
<circle cx="614.6" cy="184.4" r="2.6" fill="#7f70d6"/>
<circle cx="600.4" cy="302.4" r="2.6" fill="#dcdc00"/>
<circle cx="627" cy="302.4" r="2.6" fill="#a5693c"/>
<circle cx="634" cy="302.4" r="2.6" fill="#416ecd"/>
<circle cx="601.7" cy="342.1" r="2.6" fill="#e4620e"/>
<circle cx="608.6" cy="381.6" r="2.6" fill="#666666"/>
<circle cx="633.2" cy="381.6" r="2.6" fill="#ee2a8a"/>
<circle cx="599.8" cy="421" r="2.6" fill="#8fe6a6"/>
<circle cx="609.9" cy="421" r="2.6" fill="#d4f3e0"/>
<circle cx="629.8" cy="421" r="2.6" fill="#ad1479"/>
<circle cx="637" cy="421" r="2.6" fill="#fbb424"/>
<circle cx="644.6" cy="421" r="2.6" fill="#8e3fc5"/>
<path d="M434.6,48 L434.6,438.65 L684.6,438.65" fill="none" stroke="#111" stroke-width="1.4" stroke-linecap="square"/>
<line x1="431.90000000000003" y1="420.85" x2="434.6" y2="420.85" stroke="#111" stroke-width="1.2"/>
<text x="428.95" y="424.05" font-size="9.5" font-weight="bold" font-style="normal" text-anchor="end" textLength="5.2" lengthAdjust="spacingAndGlyphs">0</text>
<line x1="431.90000000000003" y1="381.40" x2="434.6" y2="381.40" stroke="#111" stroke-width="1.2"/>
<text x="428.95" y="384.6" font-size="9.5" font-weight="bold" font-style="normal" text-anchor="end" textLength="5.2" lengthAdjust="spacingAndGlyphs">1</text>
<line x1="431.90000000000003" y1="341.95" x2="434.6" y2="341.95" stroke="#111" stroke-width="1.2"/>
<text x="428.95" y="345.15000000000003" font-size="9.5" font-weight="bold" font-style="normal" text-anchor="end" textLength="5.2" lengthAdjust="spacingAndGlyphs">2</text>
<line x1="431.90000000000003" y1="302.50" x2="434.6" y2="302.50" stroke="#111" stroke-width="1.2"/>
<text x="428.95" y="305.7" font-size="9.5" font-weight="bold" font-style="normal" text-anchor="end" textLength="5.2" lengthAdjust="spacingAndGlyphs">3</text>
<line x1="431.90000000000003" y1="263.05" x2="434.6" y2="263.05" stroke="#111" stroke-width="1.2"/>
<text x="428.95" y="266.25" font-size="9.5" font-weight="bold" font-style="normal" text-anchor="end" textLength="5.2" lengthAdjust="spacingAndGlyphs">4</text>
<line x1="431.90000000000003" y1="223.60" x2="434.6" y2="223.60" stroke="#111" stroke-width="1.2"/>
<text x="428.95" y="226.8" font-size="9.5" font-weight="bold" font-style="normal" text-anchor="end" textLength="5.2" lengthAdjust="spacingAndGlyphs">5</text>
<line x1="431.90000000000003" y1="184.15" x2="434.6" y2="184.15" stroke="#111" stroke-width="1.2"/>
<text x="428.95" y="187.35" font-size="9.5" font-weight="bold" font-style="normal" text-anchor="end" textLength="5.2" lengthAdjust="spacingAndGlyphs">6</text>
<line x1="431.90000000000003" y1="144.70" x2="434.6" y2="144.70" stroke="#111" stroke-width="1.2"/>
<text x="428.95" y="147.89999999999998" font-size="9.5" font-weight="bold" font-style="normal" text-anchor="end" textLength="5.2" lengthAdjust="spacingAndGlyphs">7</text>
<line x1="431.90000000000003" y1="105.25" x2="434.6" y2="105.25" stroke="#111" stroke-width="1.2"/>
<text x="428.95" y="108.45" font-size="9.5" font-weight="bold" font-style="normal" text-anchor="end" textLength="5.2" lengthAdjust="spacingAndGlyphs">8</text>
<line x1="431.90000000000003" y1="65.80" x2="434.6" y2="65.80" stroke="#111" stroke-width="1.2"/>
<text x="428.95" y="69.00000000000001" font-size="9.5" font-weight="bold" font-style="normal" text-anchor="end" textLength="5.2" lengthAdjust="spacingAndGlyphs">9</text>
<line x1="502.6" y1="438.65" x2="502.6" y2="441.3" stroke="#111" stroke-width="1.2"/>
<line x1="616.3" y1="438.65" x2="616.3" y2="441.3" stroke="#111" stroke-width="1.2"/>
<text x="502.55" y="451.9" font-size="10.0" font-weight="bold" font-style="normal" text-anchor="middle" textLength="77.1" lengthAdjust="spacingAndGlyphs">Direct inoculation</text>
<text x="616.15" y="451.9" font-size="10.0" font-weight="bold" font-style="normal" text-anchor="middle" textLength="60.1" lengthAdjust="spacingAndGlyphs">Serial dilution</text>
<text x="559.5" y="40.3" font-size="14" font-weight="bold" font-style="italic" text-anchor="middle" textLength="114.4" lengthAdjust="spacingAndGlyphs">Pseudomonadota</text>
<text x="558.2" y="56.6" font-size="8.9" font-weight="bold" font-style="normal" text-anchor="middle" textLength="76.5" lengthAdjust="spacingAndGlyphs">p-value = 0.02097</text>
<line x1="502.3" y1="61.4" x2="617.7" y2="61.4" stroke="#111" stroke-width="1.2"/>
<path d="M146.60,637.00 L146.60,638.63 L146.60,640.98 L146.60,643.59 L146.60,646.00 L146.64,648.09 L146.71,650.11 L146.78,652.14 L146.90,654.30 L147.06,656.63 L147.25,659.07 L147.46,661.55 L147.70,664.00 L147.98,666.48 L148.30,669.00 L148.61,671.42 L148.85,673.60 L148.99,675.48 L149.06,677.13 L149.12,678.65 L149.25,680.10 L149.46,681.47 L149.72,682.74 L150.00,683.96 L150.30,685.20 L150.60,686.48 L150.92,687.75 L151.26,689.02 L151.60,690.30 L151.95,691.57 L152.32,692.85 L152.70,694.12 L153.10,695.40 L153.52,696.67 L153.95,697.94 L154.41,699.22 L154.90,700.50 L155.45,701.80 L156.05,703.12 L156.65,704.43 L157.20,705.70 L157.66,706.91 L158.06,708.09 L158.47,709.27 L158.95,710.50 L159.56,711.84 L160.25,713.24 L160.94,714.63 L161.55,715.90 L162.00,716.95 L162.35,717.86 L162.75,718.81 L163.35,720.00 L164.21,721.48 L165.25,723.16 L166.39,724.98 L167.55,726.90 L168.75,728.97 L170.02,731.19 L171.30,733.46 L172.55,735.70 L173.72,737.90 L174.86,740.09 L176.02,742.27 L177.25,744.40 L178.60,746.45 L180.02,748.44 L181.46,750.44 L182.85,752.50 L184.21,754.65 L185.55,756.86 L186.84,759.09 L188.05,761.30 L189.17,763.54 L190.21,765.80 L191.17,767.99 L192.05,770.00 L192.83,771.81 L193.53,773.47 L194.15,774.99 L194.70,776.40 L195.17,777.64 L195.56,778.73 L195.89,779.75 L196.20,780.80 L196.48,781.88 L196.72,782.95 L196.92,784.02 L197.10,785.10 L197.24,786.19 L197.34,787.29 L197.43,788.40 L197.50,789.50 L197.58,790.60 L197.64,791.70 L197.69,792.80 L197.70,793.90 L197.66,795.00 L197.59,796.10 L197.50,797.20 L197.40,798.30 L197.30,799.40 L197.19,800.51 L197.06,801.61 L196.90,802.70 L196.71,803.78 L196.50,804.85 L196.26,805.92 L196.00,807.00 L195.69,808.13 L195.35,809.28 L195.01,810.40 L194.70,811.40 L194.47,812.22 L194.27,812.90 L194.07,813.58 L193.80,814.40 L193.43,815.40 L193.01,816.52 L192.55,817.67 L192.10,818.80 L191.66,819.88 L191.21,820.95 L190.75,822.02 L190.30,823.10 L189.85,824.19 L189.40,825.29 L188.95,826.40 L188.50,827.50 L188.05,828.60 L187.59,829.70 L187.14,830.80 L186.70,831.90 L186.28,833.00 L185.88,834.10 L185.48,835.20 L185.10,836.30 L184.73,837.40 L184.36,838.51 L184.02,839.61 L183.70,840.70 L183.42,841.78 L183.17,842.85 L182.93,843.92 L182.70,845.00 L182.46,846.09 L182.22,847.18 L182.00,848.28 L181.80,849.40 L181.62,850.50 L181.46,851.60 L181.31,852.75 L181.20,854.00 L181.10,855.40 L181.02,856.91 L180.98,858.47 L181.00,860.00 L181.10,861.50 L181.28,863.00 L181.48,864.50 L181.70,866.00 L181.93,867.50 L182.18,869.00 L182.44,870.50 L182.70,872.00 L182.95,873.50 L183.21,874.99 L183.46,876.49 L183.70,878.00 L183.92,879.52 L184.14,881.05 L184.33,882.58 L184.50,884.10 L184.64,885.61 L184.76,887.11 L184.84,888.60 L184.90,890.10 L184.93,891.64 L184.93,893.21 L184.89,894.72 L184.80,896.10 L184.61,897.40 L184.34,898.62 L184.08,899.67 L183.90,900.40 L109.30,900.40 L109.12,899.67 L108.86,898.62 L108.59,897.40 L108.40,896.10 L108.31,894.72 L108.27,893.21 L108.27,891.64 L108.30,890.10 L108.36,888.60 L108.44,887.11 L108.56,885.61 L108.70,884.10 L108.87,882.58 L109.06,881.05 L109.28,879.52 L109.50,878.00 L109.74,876.49 L109.99,874.99 L110.25,873.50 L110.50,872.00 L110.76,870.50 L111.02,869.00 L111.27,867.50 L111.50,866.00 L111.72,864.50 L111.92,863.00 L112.10,861.50 L112.20,860.00 L112.22,858.47 L112.18,856.91 L112.10,855.40 L112.00,854.00 L111.89,852.75 L111.74,851.60 L111.58,850.50 L111.40,849.40 L111.20,848.28 L110.97,847.18 L110.74,846.09 L110.50,845.00 L110.27,843.92 L110.03,842.85 L109.78,841.78 L109.50,840.70 L109.18,839.61 L108.84,838.51 L108.47,837.40 L108.10,836.30 L107.72,835.20 L107.32,834.10 L106.92,833.00 L106.50,831.90 L106.06,830.80 L105.61,829.70 L105.15,828.60 L104.70,827.50 L104.25,826.40 L103.80,825.29 L103.35,824.19 L102.90,823.10 L102.45,822.02 L101.99,820.95 L101.54,819.88 L101.10,818.80 L100.65,817.67 L100.19,816.52 L99.77,815.40 L99.40,814.40 L99.13,813.58 L98.92,812.90 L98.73,812.22 L98.50,811.40 L98.19,810.40 L97.85,809.28 L97.51,808.13 L97.20,807.00 L96.94,805.92 L96.70,804.85 L96.49,803.78 L96.30,802.70 L96.14,801.61 L96.01,800.51 L95.90,799.40 L95.80,798.30 L95.70,797.20 L95.61,796.10 L95.54,795.00 L95.50,793.90 L95.51,792.80 L95.56,791.70 L95.62,790.60 L95.70,789.50 L95.77,788.40 L95.86,787.29 L95.96,786.19 L96.10,785.10 L96.28,784.02 L96.48,782.95 L96.72,781.88 L97.00,780.80 L97.31,779.75 L97.64,778.73 L98.03,777.64 L98.50,776.40 L99.05,774.99 L99.67,773.47 L100.37,771.81 L101.15,770.00 L102.03,767.99 L102.99,765.80 L104.03,763.54 L105.15,761.30 L106.36,759.09 L107.65,756.86 L108.99,754.65 L110.35,752.50 L111.74,750.44 L113.18,748.44 L114.60,746.45 L115.95,744.40 L117.18,742.27 L118.34,740.09 L119.47,737.90 L120.65,735.70 L121.90,733.46 L123.18,731.19 L124.45,728.97 L125.65,726.90 L126.81,724.98 L127.95,723.16 L128.99,721.48 L129.85,720.00 L130.45,718.81 L130.85,717.86 L131.20,716.95 L131.65,715.90 L132.26,714.63 L132.95,713.24 L133.64,711.84 L134.25,710.50 L134.73,709.27 L135.14,708.09 L135.54,706.91 L136.00,705.70 L136.55,704.43 L137.15,703.12 L137.75,701.80 L138.30,700.50 L138.79,699.22 L139.25,697.94 L139.68,696.67 L140.10,695.40 L140.50,694.12 L140.88,692.85 L141.25,691.57 L141.60,690.30 L141.94,689.02 L142.28,687.75 L142.60,686.48 L142.90,685.20 L143.20,683.96 L143.48,682.74 L143.74,681.47 L143.95,680.10 L144.08,678.65 L144.14,677.13 L144.21,675.48 L144.35,673.60 L144.59,671.42 L144.90,669.00 L145.22,666.48 L145.50,664.00 L145.74,661.55 L145.95,659.07 L146.14,656.63 L146.30,654.30 L146.42,652.14 L146.49,650.11 L146.56,648.09 L146.60,646.00 L146.60,643.59 L146.60,640.98 L146.60,638.63 L146.60,637.00 Z" fill="#91a0a9" stroke="#262626" stroke-width="1.2" stroke-linejoin="round"/>
<path d="M260.50,565.60 L260.50,567.66 L260.50,570.61 L260.50,573.91 L260.50,577.00 L260.50,579.75 L260.63,582.46 L260.78,585.19 L260.95,588.00 L261.12,590.93 L261.29,593.94 L261.48,596.98 L261.70,600.00 L261.96,603.00 L262.25,606.00 L262.57,609.00 L262.90,612.00 L263.25,615.00 L263.61,617.99 L264.00,620.99 L264.40,624.00 L264.83,627.02 L265.27,630.05 L265.74,633.08 L266.20,636.10 L266.68,639.20 L267.17,642.36 L267.65,645.39 L268.10,648.10 L268.48,650.27 L268.81,652.05 L269.15,653.83 L269.55,656.00 L270.03,658.71 L270.57,661.74 L271.13,664.90 L271.70,668.00 L272.28,671.00 L272.87,673.99 L273.47,676.99 L274.10,680.00 L274.75,683.02 L275.43,686.05 L276.12,689.08 L276.80,692.10 L277.50,695.25 L278.22,698.49 L278.90,701.53 L279.50,704.10 L279.97,705.86 L280.33,707.05 L280.70,708.24 L281.15,710.00 L281.71,712.57 L282.34,715.62 L283.01,718.86 L283.70,722.00 L284.40,725.00 L285.12,727.99 L285.88,730.99 L286.70,734.00 L287.60,737.02 L288.57,740.05 L289.58,743.08 L290.60,746.10 L291.66,749.23 L292.77,752.42 L293.84,755.46 L294.80,758.10 L295.63,760.20 L296.37,761.93 L297.04,763.46 L297.65,765.00 L298.18,766.56 L298.64,768.06 L299.06,769.52 L299.50,771.00 L299.96,772.50 L300.42,774.00 L300.87,775.50 L301.30,777.00 L301.73,778.50 L302.14,780.00 L302.54,781.50 L302.90,783.00 L303.22,784.50 L303.51,786.00 L303.77,787.50 L304.00,789.00 L304.19,790.50 L304.35,791.99 L304.48,793.49 L304.60,795.00 L304.70,796.52 L304.79,798.05 L304.85,799.58 L304.90,801.10 L304.93,802.61 L304.93,804.11 L304.92,805.60 L304.90,807.10 L304.87,808.58 L304.82,810.04 L304.77,811.54 L304.70,813.10 L304.63,814.64 L304.57,816.18 L304.48,817.90 L304.35,820.00 L304.17,822.64 L303.95,825.68 L303.72,828.88 L303.50,832.00 L303.30,835.00 L303.11,837.99 L302.91,840.99 L302.70,844.00 L302.48,847.02 L302.24,850.05 L301.99,853.08 L301.70,856.10 L301.36,859.25 L300.97,862.50 L300.57,865.55 L300.20,868.10 L299.89,869.90 L299.62,871.16 L299.31,872.31 L298.90,873.80 L298.36,875.76 L297.73,877.96 L297.03,880.25 L296.30,882.50 L295.55,884.68 L294.77,886.87 L293.92,889.07 L293.00,891.30 L291.86,893.79 L290.57,896.45 L289.38,898.84 L288.55,900.50 L232.45,900.50 L231.62,898.84 L230.43,896.45 L229.14,893.79 L228.00,891.30 L227.08,889.07 L226.23,886.87 L225.45,884.68 L224.70,882.50 L223.97,880.25 L223.27,877.96 L222.64,875.76 L222.10,873.80 L221.69,872.31 L221.38,871.16 L221.11,869.90 L220.80,868.10 L220.43,865.55 L220.03,862.50 L219.64,859.25 L219.30,856.10 L219.01,853.08 L218.76,850.05 L218.52,847.02 L218.30,844.00 L218.09,840.99 L217.89,837.99 L217.70,835.00 L217.50,832.00 L217.28,828.88 L217.05,825.68 L216.83,822.64 L216.65,820.00 L216.52,817.90 L216.43,816.18 L216.37,814.64 L216.30,813.10 L216.23,811.54 L216.18,810.04 L216.13,808.58 L216.10,807.10 L216.08,805.60 L216.07,804.11 L216.07,802.61 L216.10,801.10 L216.15,799.58 L216.21,798.05 L216.30,796.52 L216.40,795.00 L216.52,793.49 L216.65,791.99 L216.81,790.50 L217.00,789.00 L217.23,787.50 L217.49,786.00 L217.78,784.50 L218.10,783.00 L218.46,781.50 L218.86,780.00 L219.27,778.50 L219.70,777.00 L220.13,775.50 L220.58,774.00 L221.04,772.50 L221.50,771.00 L221.94,769.52 L222.36,768.06 L222.82,766.56 L223.35,765.00 L223.96,763.46 L224.63,761.93 L225.37,760.20 L226.20,758.10 L227.16,755.46 L228.23,752.42 L229.34,749.23 L230.40,746.10 L231.42,743.08 L232.43,740.05 L233.40,737.02 L234.30,734.00 L235.12,730.99 L235.88,727.99 L236.60,725.00 L237.30,722.00 L237.99,718.86 L238.66,715.62 L239.29,712.57 L239.85,710.00 L240.30,708.24 L240.67,707.05 L241.03,705.86 L241.50,704.10 L242.10,701.53 L242.78,698.49 L243.50,695.25 L244.20,692.10 L244.88,689.08 L245.57,686.05 L246.25,683.02 L246.90,680.00 L247.53,676.99 L248.13,673.99 L248.72,671.00 L249.30,668.00 L249.87,664.90 L250.43,661.74 L250.97,658.71 L251.45,656.00 L251.85,653.83 L252.19,652.05 L252.52,650.27 L252.90,648.10 L253.35,645.39 L253.83,642.36 L254.32,639.20 L254.80,636.10 L255.26,633.08 L255.72,630.05 L256.17,627.02 L256.60,624.00 L257.00,620.99 L257.39,617.99 L257.75,615.00 L258.10,612.00 L258.43,609.00 L258.75,606.00 L259.04,603.00 L259.30,600.00 L259.52,596.98 L259.71,593.94 L259.88,590.93 L260.05,588.00 L260.22,585.19 L260.37,582.46 L260.50,579.75 L260.50,577.00 L260.50,573.91 L260.50,570.61 L260.50,567.66 L260.50,565.60 Z" fill="#f2a283" stroke="#262626" stroke-width="1.2" stroke-linejoin="round"/>
<line x1="146.6" y1="735.2" x2="146.6" y2="782.5" stroke="#262626" stroke-width="1.3"/>
<line x1="146.6" y1="892" x2="146.6" y2="900.2" stroke="#262626" stroke-width="1.3"/>
<rect x="142.65" y="782.5" width="7.9" height="109.50" fill="#3b5568" stroke="#262626" stroke-width="1.1"/>
<line x1="142.65" y1="817.6" x2="150.55" y2="817.6" stroke="#222" stroke-width="1.7"/>
<line x1="260.5" y1="675.8" x2="260.5" y2="773.5" stroke="#262626" stroke-width="1.3"/>
<line x1="260.5" y1="868" x2="260.5" y2="888.5" stroke="#262626" stroke-width="1.3"/>
<rect x="256.55" y="773.5" width="7.9" height="94.50" fill="#e55a1f" stroke="#262626" stroke-width="1.1"/>
<line x1="256.55" y1="800.1" x2="264.45" y2="800.1" stroke="#222" stroke-width="1.7"/>
<line x1="163.1" y1="900.8" x2="270.5" y2="865.2" stroke="#d4f3e0" stroke-width="1.0" stroke-opacity="0.35"/>
<line x1="143" y1="758.9" x2="265.6" y2="723.3" stroke="#8fe6a6" stroke-width="1.0" stroke-opacity="0.45"/>
<line x1="132.2" y1="782.4" x2="274.7" y2="794.4" stroke="#dcdc00" stroke-width="1.0" stroke-opacity="0.45"/>
<line x1="161" y1="806.2" x2="268.1" y2="782.6" stroke="#fbb424" stroke-width="1.0" stroke-opacity="0.33"/>
<line x1="137.9" y1="735.2" x2="263.3" y2="675.8" stroke="#7f70d6" stroke-width="1.0" stroke-opacity="0.45"/>
<line x1="141.3" y1="900.8" x2="264.7" y2="877" stroke="#8e3fc5" stroke-width="1.0" stroke-opacity="0.45"/>
<line x1="155.9" y1="782.4" x2="253.5" y2="747" stroke="#416ecd" stroke-width="1.0" stroke-opacity="0.45"/>
<line x1="155.3" y1="900.8" x2="250.6" y2="877" stroke="#a5693c" stroke-width="1.0" stroke-opacity="0.45"/>
<line x1="130.7" y1="829.6" x2="267.7" y2="829.7" stroke="#666666" stroke-width="1.0" stroke-opacity="0.4"/>
<line x1="137.9" y1="794.2" x2="251.9" y2="806.4" stroke="#ee2a8a" stroke-width="1.0" stroke-opacity="0.45"/>
<line x1="128.8" y1="889.2" x2="247.6" y2="888.9" stroke="#ad1479" stroke-width="1.0" stroke-opacity="0.45"/>
<line x1="155.9" y1="829.6" x2="245.3" y2="794.4" stroke="#e4620e" stroke-width="1.25" stroke-opacity="0.6"/>
<circle cx="137.9" cy="735.2" r="2.6" fill="#7f70d6"/>
<circle cx="143" cy="758.9" r="2.6" fill="#8fe6a6"/>
<circle cx="132.2" cy="782.4" r="2.6" fill="#dcdc00"/>
<circle cx="155.9" cy="782.4" r="2.6" fill="#416ecd"/>
<circle cx="137.9" cy="794.2" r="2.6" fill="#ee2a8a"/>
<circle cx="161" cy="806.2" r="2.6" fill="#fbb424"/>
<circle cx="130.7" cy="829.6" r="2.6" fill="#666666"/>
<circle cx="155.9" cy="829.6" r="2.6" fill="#e4620e"/>
<circle cx="128.8" cy="889.2" r="2.6" fill="#ad1479"/>
<circle cx="141.3" cy="900.8" r="2.6" fill="#8e3fc5"/>
<circle cx="155.3" cy="900.8" r="2.6" fill="#a5693c"/>
<circle cx="163.1" cy="900.8" r="2.6" fill="#d4f3e0"/>
<circle cx="263.3" cy="675.8" r="2.6" fill="#7f70d6"/>
<circle cx="265.6" cy="723.3" r="2.6" fill="#8fe6a6"/>
<circle cx="253.5" cy="747" r="2.6" fill="#416ecd"/>
<circle cx="268.1" cy="782.6" r="2.6" fill="#fbb424"/>
<circle cx="274.7" cy="794.4" r="2.6" fill="#dcdc00"/>
<circle cx="245.3" cy="794.4" r="2.6" fill="#e4620e"/>
<circle cx="251.9" cy="806.4" r="2.6" fill="#ee2a8a"/>
<circle cx="267.7" cy="829.7" r="2.6" fill="#666666"/>
<circle cx="270.5" cy="865.2" r="2.6" fill="#d4f3e0"/>
<circle cx="250.6" cy="877" r="2.6" fill="#a5693c"/>
<circle cx="264.7" cy="877" r="2.6" fill="#8e3fc5"/>
<circle cx="247.6" cy="888.9" r="2.6" fill="#ad1479"/>
<path d="M78.6,528.0 L78.6,918.65 L328.6,918.65" fill="none" stroke="#111" stroke-width="1.4" stroke-linecap="square"/>
<line x1="75.89999999999999" y1="900.85" x2="78.6" y2="900.85" stroke="#111" stroke-width="1.2"/>
<text x="72.95" y="904.0500000000001" font-size="9.5" font-weight="bold" font-style="normal" text-anchor="end" textLength="5.2" lengthAdjust="spacingAndGlyphs">0</text>
<line x1="75.89999999999999" y1="782.49" x2="78.6" y2="782.49" stroke="#111" stroke-width="1.2"/>
<text x="72.95" y="785.69" font-size="9.5" font-weight="bold" font-style="normal" text-anchor="end" textLength="10.2" lengthAdjust="spacingAndGlyphs">10</text>
<line x1="75.89999999999999" y1="664.13" x2="78.6" y2="664.13" stroke="#111" stroke-width="1.2"/>
<text x="72.95" y="667.33" font-size="9.5" font-weight="bold" font-style="normal" text-anchor="end" textLength="10.2" lengthAdjust="spacingAndGlyphs">20</text>
<line x1="75.89999999999999" y1="545.77" x2="78.6" y2="545.77" stroke="#111" stroke-width="1.2"/>
<text x="72.95" y="548.97" font-size="9.5" font-weight="bold" font-style="normal" text-anchor="end" textLength="10.2" lengthAdjust="spacingAndGlyphs">30</text>
<line x1="146.6" y1="918.65" x2="146.6" y2="921.3" stroke="#111" stroke-width="1.2"/>
<line x1="260.3" y1="918.65" x2="260.3" y2="921.3" stroke="#111" stroke-width="1.2"/>
<text x="146.55" y="931.9" font-size="10.0" font-weight="bold" font-style="normal" text-anchor="middle" textLength="77.1" lengthAdjust="spacingAndGlyphs">Direct inoculation</text>
<text x="260.15" y="931.9" font-size="10.0" font-weight="bold" font-style="normal" text-anchor="middle" textLength="60.1" lengthAdjust="spacingAndGlyphs">Serial dilution</text>
<text x="0" y="0" font-size="10.4" font-weight="bold" text-anchor="middle" textLength="123.1" lengthAdjust="spacingAndGlyphs" transform="translate(49.3,724.6) rotate(-90)">Isolated species richness</text>
<text x="203.5" y="520.3" font-size="14" font-weight="bold" font-style="italic" text-anchor="middle" textLength="103.6" lengthAdjust="spacingAndGlyphs">Actinomycetota</text>
<text x="202.2" y="536.6" font-size="8.9" font-weight="bold" font-style="normal" text-anchor="middle" textLength="76.5" lengthAdjust="spacingAndGlyphs">p-value = 0.00772</text>
<line x1="147.2" y1="541.4" x2="260.2" y2="541.4" stroke="#111" stroke-width="1.2"/>
<path d="M503.00,734.90 L503.00,735.42 L503.00,736.16 L503.00,737.05 L503.05,738.00 L503.21,739.06 L503.36,740.24 L503.55,741.45 L503.80,742.60 L504.12,743.66 L504.49,744.68 L504.93,745.68 L505.45,746.70 L506.11,747.74 L506.87,748.79 L507.66,749.85 L508.40,750.90 L509.08,751.95 L509.73,753.00 L510.34,754.05 L510.90,755.10 L511.40,756.11 L511.86,757.10 L512.26,758.14 L512.60,759.30 L512.91,760.62 L513.19,762.04 L513.37,763.55 L513.40,765.10 L513.24,766.77 L512.93,768.55 L512.53,770.28 L512.10,771.80 L511.65,773.03 L511.15,774.06 L510.60,775.01 L510.00,776.00 L509.32,777.05 L508.57,778.10 L507.81,779.15 L507.10,780.20 L506.42,781.25 L505.76,782.30 L505.15,783.35 L504.65,784.40 L504.27,785.45 L504.00,786.50 L503.80,787.55 L503.65,788.60 L503.56,789.65 L503.53,790.70 L503.56,791.75 L503.65,792.80 L503.80,793.85 L504.01,794.91 L504.27,795.96 L504.55,797.00 L504.87,798.04 L505.23,799.07 L505.60,800.09 L505.95,801.10 L506.27,802.10 L506.56,803.09 L506.88,804.06 L507.25,805.00 L507.68,805.91 L508.16,806.79 L508.68,807.65 L509.25,808.50 L509.83,809.32 L510.43,810.11 L511.13,810.92 L512.05,811.80 L513.25,812.80 L514.66,813.88 L516.17,814.97 L517.65,816.00 L519.08,816.94 L520.52,817.84 L521.98,818.71 L523.45,819.60 L524.96,820.51 L526.50,821.42 L528.02,822.32 L529.45,823.20 L530.80,824.06 L532.09,824.92 L533.31,825.74 L534.45,826.50 L535.49,827.17 L536.43,827.77 L537.32,828.36 L538.20,829.00 L539.08,829.71 L539.95,830.47 L540.77,831.24 L541.50,832.00 L542.12,832.75 L542.66,833.50 L543.15,834.25 L543.60,835.00 L544.02,835.75 L544.41,836.50 L544.76,837.25 L545.10,838.00 L545.41,838.75 L545.68,839.50 L545.96,840.25 L546.30,841.00 L546.70,841.75 L547.14,842.50 L547.61,843.25 L548.10,844.00 L548.60,844.75 L549.13,845.50 L549.67,846.25 L550.20,847.00 L550.74,847.75 L551.28,848.50 L551.81,849.25 L552.30,850.00 L552.76,850.75 L553.19,851.50 L553.58,852.25 L553.90,853.00 L554.15,853.75 L554.34,854.49 L554.46,855.24 L554.50,856.00 L554.46,856.77 L554.34,857.55 L554.15,858.33 L553.90,859.10 L553.59,859.86 L553.21,860.61 L552.78,861.35 L552.30,862.10 L551.78,862.85 L551.21,863.60 L550.58,864.35 L549.90,865.10 L549.15,865.85 L548.34,866.60 L547.49,867.35 L546.60,868.10 L545.68,868.85 L544.73,869.60 L543.73,870.35 L542.70,871.10 L541.63,871.85 L540.52,872.61 L539.37,873.36 L538.20,874.10 L537.00,874.83 L535.76,875.55 L534.50,876.27 L533.25,877.00 L532.06,877.71 L530.90,878.41 L529.66,879.15 L528.25,880.00 L526.57,880.99 L524.69,882.08 L522.77,883.23 L520.95,884.40 L519.25,885.61 L517.59,886.87 L515.99,888.14 L514.45,889.40 L512.95,890.63 L511.49,891.85 L510.12,893.07 L508.85,894.30 L507.66,895.62 L506.55,897.00 L505.59,898.28 L504.85,899.30 L504.41,900.00 L504.20,900.46 L504.12,900.77 L504.05,901.00 L501.95,901.00 L501.88,900.77 L501.80,900.46 L501.59,900.00 L501.15,899.30 L500.41,898.28 L499.45,897.00 L498.34,895.62 L497.15,894.30 L495.88,893.07 L494.51,891.85 L493.05,890.63 L491.55,889.40 L490.01,888.14 L488.41,886.87 L486.75,885.61 L485.05,884.40 L483.23,883.23 L481.31,882.08 L479.43,880.99 L477.75,880.00 L476.34,879.15 L475.10,878.41 L473.94,877.71 L472.75,877.00 L471.50,876.27 L470.24,875.55 L469.00,874.83 L467.80,874.10 L466.63,873.36 L465.48,872.61 L464.37,871.85 L463.30,871.10 L462.27,870.35 L461.27,869.60 L460.32,868.85 L459.40,868.10 L458.51,867.35 L457.66,866.60 L456.85,865.85 L456.10,865.10 L455.42,864.35 L454.79,863.60 L454.22,862.85 L453.70,862.10 L453.22,861.35 L452.79,860.61 L452.41,859.86 L452.10,859.10 L451.85,858.33 L451.66,857.55 L451.54,856.77 L451.50,856.00 L451.54,855.24 L451.66,854.49 L451.85,853.75 L452.10,853.00 L452.42,852.25 L452.81,851.50 L453.24,850.75 L453.70,850.00 L454.19,849.25 L454.72,848.50 L455.26,847.75 L455.80,847.00 L456.33,846.25 L456.87,845.50 L457.40,844.75 L457.90,844.00 L458.39,843.25 L458.86,842.50 L459.30,841.75 L459.70,841.00 L460.04,840.25 L460.32,839.50 L460.59,838.75 L460.90,838.00 L461.24,837.25 L461.59,836.50 L461.98,835.75 L462.40,835.00 L462.85,834.25 L463.34,833.50 L463.88,832.75 L464.50,832.00 L465.23,831.24 L466.05,830.47 L466.92,829.71 L467.80,829.00 L468.68,828.36 L469.57,827.77 L470.51,827.17 L471.55,826.50 L472.69,825.74 L473.91,824.92 L475.20,824.06 L476.55,823.20 L477.98,822.32 L479.50,821.42 L481.04,820.51 L482.55,819.60 L484.02,818.71 L485.48,817.84 L486.92,816.94 L488.35,816.00 L489.83,814.97 L491.34,813.88 L492.75,812.80 L493.95,811.80 L494.87,810.92 L495.57,810.11 L496.17,809.32 L496.75,808.50 L497.32,807.65 L497.84,806.79 L498.32,805.91 L498.75,805.00 L499.12,804.06 L499.44,803.09 L499.73,802.10 L500.05,801.10 L500.40,800.09 L500.77,799.07 L501.13,798.04 L501.45,797.00 L501.73,795.96 L501.99,794.91 L502.20,793.85 L502.35,792.80 L502.44,791.75 L502.47,790.70 L502.44,789.65 L502.35,788.60 L502.20,787.55 L502.00,786.50 L501.73,785.45 L501.35,784.40 L500.85,783.35 L500.24,782.30 L499.58,781.25 L498.90,780.20 L498.19,779.15 L497.43,778.10 L496.68,777.05 L496.00,776.00 L495.40,775.01 L494.85,774.06 L494.35,773.03 L493.90,771.80 L493.47,770.28 L493.07,768.55 L492.76,766.77 L492.60,765.10 L492.63,763.55 L492.81,762.04 L493.09,760.62 L493.40,759.30 L493.74,758.14 L494.14,757.10 L494.60,756.11 L495.10,755.10 L495.66,754.05 L496.27,753.00 L496.92,751.95 L497.60,750.90 L498.34,749.85 L499.13,748.79 L499.89,747.74 L500.55,746.70 L501.07,745.68 L501.51,744.68 L501.88,743.66 L502.20,742.60 L502.45,741.45 L502.64,740.24 L502.79,739.06 L502.95,738.00 L503.00,737.05 L503.00,736.16 L503.00,735.42 L503.00,734.90 Z" fill="#91a0a9" stroke="#262626" stroke-width="1.2" stroke-linejoin="round"/>
<path d="M616.60,581.20 L616.60,582.76 L616.60,584.98 L616.60,587.52 L616.65,590.00 L616.78,592.37 L616.90,594.82 L617.05,597.33 L617.30,599.90 L617.68,602.55 L618.16,605.28 L618.67,608.04 L619.15,610.80 L619.61,613.55 L620.08,616.30 L620.51,619.05 L620.90,621.80 L621.23,624.66 L621.52,627.59 L621.76,630.36 L621.95,632.70 L622.07,634.46 L622.13,635.79 L622.15,636.96 L622.15,638.20 L622.16,639.43 L622.15,640.56 L622.09,641.86 L621.95,643.60 L621.69,645.96 L621.35,648.76 L620.96,651.73 L620.55,654.60 L620.12,657.33 L619.65,660.05 L619.18,662.77 L618.75,665.50 L618.34,668.28 L617.95,671.09 L617.59,673.85 L617.30,676.50 L617.09,678.88 L616.94,681.06 L616.83,683.34 L616.75,686.00 L616.69,688.81 L616.67,691.72 L616.66,695.27 L616.65,700.00 L616.64,706.84 L616.63,715.25 L616.63,723.53 L616.65,730.00 L616.68,734.00 L616.73,736.50 L616.79,738.25 L616.90,740.00 L617.05,741.78 L617.24,743.25 L617.46,744.59 L617.70,746.00 L617.97,747.50 L618.27,749.00 L618.58,750.50 L618.90,752.00 L619.21,753.50 L619.52,755.00 L619.84,756.50 L620.20,758.00 L620.59,759.50 L621.01,761.00 L621.45,762.50 L621.90,764.00 L622.36,765.50 L622.84,766.99 L623.34,768.49 L623.85,770.00 L624.39,771.52 L624.95,773.05 L625.52,774.58 L626.10,776.10 L626.69,777.61 L627.29,779.11 L627.90,780.60 L628.50,782.10 L629.08,783.56 L629.63,784.98 L630.23,786.47 L630.90,788.10 L631.71,789.99 L632.63,792.05 L633.54,794.11 L634.35,796.00 L635.02,797.63 L635.60,799.12 L636.14,800.54 L636.70,802.00 L637.29,803.50 L637.88,805.00 L638.45,806.50 L639.00,808.00 L639.50,809.50 L639.97,811.00 L640.43,812.50 L640.90,814.00 L641.40,815.50 L641.91,817.00 L642.41,818.50 L642.90,820.00 L643.37,821.50 L643.83,822.99 L644.28,824.49 L644.70,826.00 L645.10,827.52 L645.49,829.05 L645.85,830.58 L646.20,832.10 L646.53,833.61 L646.85,835.11 L647.14,836.60 L647.40,838.10 L647.62,839.63 L647.81,841.17 L647.97,842.68 L648.10,844.10 L648.22,845.40 L648.31,846.61 L648.35,847.79 L648.30,849.00 L648.14,850.22 L647.89,851.43 L647.58,852.68 L647.20,854.00 L646.76,855.43 L646.24,856.94 L645.68,858.48 L645.10,860.00 L644.50,861.50 L643.86,863.00 L643.20,864.50 L642.50,866.00 L641.78,867.50 L641.03,869.00 L640.24,870.50 L639.40,872.00 L638.50,873.50 L637.54,874.99 L636.54,876.49 L635.50,878.00 L634.41,879.52 L633.27,881.05 L632.12,882.58 L631.00,884.10 L629.91,885.61 L628.83,887.11 L627.78,888.60 L626.80,890.10 L625.88,891.66 L625.02,893.25 L624.22,894.77 L623.50,896.10 L622.85,897.23 L622.27,898.23 L621.78,899.05 L621.40,899.70 L621.16,900.12 L621.04,900.33 L620.99,900.42 L620.95,900.50 L612.25,900.50 L612.21,900.42 L612.16,900.33 L612.04,900.12 L611.80,899.70 L611.42,899.05 L610.93,898.23 L610.35,897.23 L609.70,896.10 L608.98,894.77 L608.18,893.25 L607.32,891.66 L606.40,890.10 L605.42,888.60 L604.38,887.11 L603.29,885.61 L602.20,884.10 L601.08,882.58 L599.93,881.05 L598.79,879.52 L597.70,878.00 L596.66,876.49 L595.66,874.99 L594.70,873.50 L593.80,872.00 L592.96,870.50 L592.17,869.00 L591.42,867.50 L590.70,866.00 L590.00,864.50 L589.34,863.00 L588.70,861.50 L588.10,860.00 L587.52,858.48 L586.96,856.94 L586.44,855.43 L586.00,854.00 L585.62,852.68 L585.31,851.43 L585.06,850.22 L584.90,849.00 L584.85,847.79 L584.89,846.61 L584.98,845.40 L585.10,844.10 L585.23,842.68 L585.39,841.17 L585.58,839.63 L585.80,838.10 L586.06,836.60 L586.35,835.11 L586.67,833.61 L587.00,832.10 L587.35,830.58 L587.71,829.05 L588.10,827.52 L588.50,826.00 L588.92,824.49 L589.37,822.99 L589.83,821.50 L590.30,820.00 L590.79,818.50 L591.29,817.00 L591.80,815.50 L592.30,814.00 L592.77,812.50 L593.23,811.00 L593.70,809.50 L594.20,808.00 L594.75,806.50 L595.32,805.00 L595.91,803.50 L596.50,802.00 L597.06,800.54 L597.60,799.12 L598.18,797.63 L598.85,796.00 L599.66,794.11 L600.57,792.05 L601.49,789.99 L602.30,788.10 L602.97,786.47 L603.57,784.98 L604.12,783.56 L604.70,782.10 L605.30,780.60 L605.91,779.11 L606.51,777.61 L607.10,776.10 L607.68,774.58 L608.25,773.05 L608.81,771.52 L609.35,770.00 L609.86,768.49 L610.36,766.99 L610.84,765.50 L611.30,764.00 L611.75,762.50 L612.19,761.00 L612.61,759.50 L613.00,758.00 L613.36,756.50 L613.68,755.00 L613.99,753.50 L614.30,752.00 L614.62,750.50 L614.93,749.00 L615.23,747.50 L615.50,746.00 L615.74,744.59 L615.96,743.25 L616.15,741.78 L616.30,740.00 L616.41,738.25 L616.48,736.50 L616.52,734.00 L616.55,730.00 L616.57,723.53 L616.57,715.25 L616.56,706.84 L616.55,700.00 L616.54,695.27 L616.53,691.72 L616.51,688.81 L616.45,686.00 L616.37,683.34 L616.26,681.06 L616.11,678.88 L615.90,676.50 L615.61,673.85 L615.25,671.09 L614.86,668.28 L614.45,665.50 L614.02,662.77 L613.55,660.05 L613.08,657.33 L612.65,654.60 L612.24,651.73 L611.85,648.76 L611.51,645.96 L611.25,643.60 L611.11,641.86 L611.05,640.56 L611.04,639.43 L611.05,638.20 L611.05,636.96 L611.07,635.79 L611.13,634.46 L611.25,632.70 L611.44,630.36 L611.68,627.59 L611.97,624.66 L612.30,621.80 L612.69,619.05 L613.12,616.30 L613.59,613.55 L614.05,610.80 L614.53,608.04 L615.04,605.28 L615.52,602.55 L615.90,599.90 L616.15,597.33 L616.30,594.82 L616.42,592.37 L616.55,590.00 L616.60,587.52 L616.60,584.98 L616.60,582.76 L616.60,581.20 Z" fill="#f2a283" stroke="#262626" stroke-width="1.2" stroke-linejoin="round"/>
<line x1="503.0" y1="823.4" x2="503.0" y2="835.2" stroke="#262626" stroke-width="1.3"/>
<line x1="503.0" y1="860.3" x2="503.0" y2="879.4" stroke="#262626" stroke-width="1.3"/>
<rect x="499.05" y="835.2" width="7.9" height="25.10" fill="#3b5568" stroke="#262626" stroke-width="1.1"/>
<line x1="499.05" y1="850.9" x2="506.95" y2="850.9" stroke="#222" stroke-width="1.7"/>
<line x1="616.6" y1="780.3" x2="616.6" y2="806.7" stroke="#262626" stroke-width="1.3"/>
<line x1="616.6" y1="852.7" x2="616.6" y2="872.5" stroke="#262626" stroke-width="1.3"/>
<rect x="612.65" y="806.7" width="7.9" height="46.00" fill="#e55a1f" stroke="#262626" stroke-width="1.1"/>
<line x1="612.65" y1="833.4" x2="620.55" y2="833.4" stroke="#222" stroke-width="1.7"/>
<line x1="497.5" y1="872.3" x2="626.4" y2="858.2" stroke="#d4f3e0" stroke-width="1.0" stroke-opacity="0.35"/>
<line x1="511.8" y1="836.8" x2="631.7" y2="851.1" stroke="#8fe6a6" stroke-width="1.0" stroke-opacity="0.45"/>
<line x1="511.8" y1="851.1" x2="605.6" y2="844" stroke="#dcdc00" stroke-width="1.0" stroke-opacity="0.45"/>
<line x1="486.3" y1="858.2" x2="601.9" y2="823" stroke="#fbb424" stroke-width="1.0" stroke-opacity="0.33"/>
<line x1="498.5" y1="765.9" x2="617.4" y2="637.9" stroke="#7f70d6" stroke-width="1.0" stroke-opacity="0.45"/>
<line x1="492.6" y1="836.8" x2="612.1" y2="801.2" stroke="#8e3fc5" stroke-width="1.0" stroke-opacity="0.45"/>
<line x1="495.5" y1="851.1" x2="624.3" y2="808.7" stroke="#416ecd" stroke-width="1.0" stroke-opacity="0.45"/>
<line x1="506.9" y1="865.4" x2="609" y2="865.4" stroke="#a5693c" stroke-width="1.0" stroke-opacity="0.45"/>
<line x1="513.8" y1="829.7" x2="621.7" y2="872.5" stroke="#666666" stroke-width="1.0" stroke-opacity="0.4"/>
<line x1="497.9" y1="823.2" x2="611.5" y2="780.2" stroke="#ee2a8a" stroke-width="1.0" stroke-opacity="0.45"/>
<line x1="508.7" y1="879.4" x2="630.8" y2="823" stroke="#ad1479" stroke-width="1.0" stroke-opacity="0.45"/>
<line x1="492.6" y1="858.2" x2="624.3" y2="844" stroke="#e4620e" stroke-width="1.25" stroke-opacity="0.6"/>
<circle cx="498.5" cy="765.9" r="2.6" fill="#7f70d6"/>
<circle cx="497.9" cy="823.2" r="2.6" fill="#ee2a8a"/>
<circle cx="513.8" cy="829.7" r="2.6" fill="#666666"/>
<circle cx="492.6" cy="836.8" r="2.6" fill="#8e3fc5"/>
<circle cx="511.8" cy="836.8" r="2.6" fill="#8fe6a6"/>
<circle cx="495.5" cy="851.1" r="2.6" fill="#416ecd"/>
<circle cx="511.8" cy="851.1" r="2.6" fill="#dcdc00"/>
<circle cx="486.3" cy="858.2" r="2.6" fill="#fbb424"/>
<circle cx="492.6" cy="858.2" r="2.6" fill="#e4620e"/>
<circle cx="506.9" cy="865.4" r="2.6" fill="#a5693c"/>
<circle cx="497.5" cy="872.3" r="2.6" fill="#d4f3e0"/>
<circle cx="508.7" cy="879.4" r="2.6" fill="#ad1479"/>
<circle cx="617.4" cy="637.9" r="2.6" fill="#7f70d6"/>
<circle cx="611.5" cy="780.2" r="2.6" fill="#ee2a8a"/>
<circle cx="612.1" cy="801.2" r="2.6" fill="#8e3fc5"/>
<circle cx="624.3" cy="808.7" r="2.6" fill="#416ecd"/>
<circle cx="601.9" cy="823" r="2.6" fill="#fbb424"/>
<circle cx="630.8" cy="823" r="2.6" fill="#ad1479"/>
<circle cx="605.6" cy="844" r="2.6" fill="#dcdc00"/>
<circle cx="624.3" cy="844" r="2.6" fill="#e4620e"/>
<circle cx="631.7" cy="851.1" r="2.6" fill="#8fe6a6"/>
<circle cx="626.4" cy="858.2" r="2.6" fill="#d4f3e0"/>
<circle cx="609" cy="865.4" r="2.6" fill="#a5693c"/>
<circle cx="621.7" cy="872.5" r="2.6" fill="#666666"/>
<path d="M434.6,528.0 L434.6,918.65 L684.6,918.65" fill="none" stroke="#111" stroke-width="1.4" stroke-linecap="square"/>
<line x1="431.90000000000003" y1="900.85" x2="434.6" y2="900.85" stroke="#111" stroke-width="1.2"/>
<text x="428.95" y="904.0500000000001" font-size="9.5" font-weight="bold" font-style="normal" text-anchor="end" textLength="5.2" lengthAdjust="spacingAndGlyphs">0</text>
<line x1="431.90000000000003" y1="829.85" x2="434.6" y2="829.85" stroke="#111" stroke-width="1.2"/>
<text x="428.95" y="833.0500000000001" font-size="9.5" font-weight="bold" font-style="normal" text-anchor="end" textLength="10.2" lengthAdjust="spacingAndGlyphs">10</text>
<line x1="431.90000000000003" y1="758.85" x2="434.6" y2="758.85" stroke="#111" stroke-width="1.2"/>
<text x="428.95" y="762.0500000000001" font-size="9.5" font-weight="bold" font-style="normal" text-anchor="end" textLength="10.2" lengthAdjust="spacingAndGlyphs">20</text>
<line x1="431.90000000000003" y1="687.85" x2="434.6" y2="687.85" stroke="#111" stroke-width="1.2"/>
<text x="428.95" y="691.0500000000001" font-size="9.5" font-weight="bold" font-style="normal" text-anchor="end" textLength="10.2" lengthAdjust="spacingAndGlyphs">30</text>
<line x1="431.90000000000003" y1="616.85" x2="434.6" y2="616.85" stroke="#111" stroke-width="1.2"/>
<text x="428.95" y="620.0500000000001" font-size="9.5" font-weight="bold" font-style="normal" text-anchor="end" textLength="10.2" lengthAdjust="spacingAndGlyphs">40</text>
<line x1="431.90000000000003" y1="545.85" x2="434.6" y2="545.85" stroke="#111" stroke-width="1.2"/>
<text x="428.95" y="549.0500000000001" font-size="9.5" font-weight="bold" font-style="normal" text-anchor="end" textLength="10.2" lengthAdjust="spacingAndGlyphs">50</text>
<line x1="502.6" y1="918.65" x2="502.6" y2="921.3" stroke="#111" stroke-width="1.2"/>
<line x1="616.3" y1="918.65" x2="616.3" y2="921.3" stroke="#111" stroke-width="1.2"/>
<text x="502.55" y="931.9" font-size="10.0" font-weight="bold" font-style="normal" text-anchor="middle" textLength="77.1" lengthAdjust="spacingAndGlyphs">Direct inoculation</text>
<text x="616.15" y="931.9" font-size="10.0" font-weight="bold" font-style="normal" text-anchor="middle" textLength="60.1" lengthAdjust="spacingAndGlyphs">Serial dilution</text>
<text x="559.5" y="520.3" font-size="14" font-weight="bold" font-style="italic" text-anchor="middle" textLength="84.4" lengthAdjust="spacingAndGlyphs">Bacteroidota</text>
<text x="558.2" y="536.6" font-size="8.9" font-weight="bold" font-style="normal" text-anchor="middle" textLength="76.5" lengthAdjust="spacingAndGlyphs">p-value = 0.05178</text>
<line x1="503.3" y1="541.4" x2="616.7" y2="541.4" stroke="#111" stroke-width="1.2"/>
<text x="-0.8" y="13.8" font-size="17.5" font-weight="bold">a)</text>
<text x="378.0" y="13.2" font-size="17.5" font-weight="bold">b)</text>
<text x="0.6" y="494.3" font-size="17.5" font-weight="bold">c)</text>
<text x="376.6" y="493.8" font-size="17.5" font-weight="bold">d)</text>
</svg>
</body></html>
